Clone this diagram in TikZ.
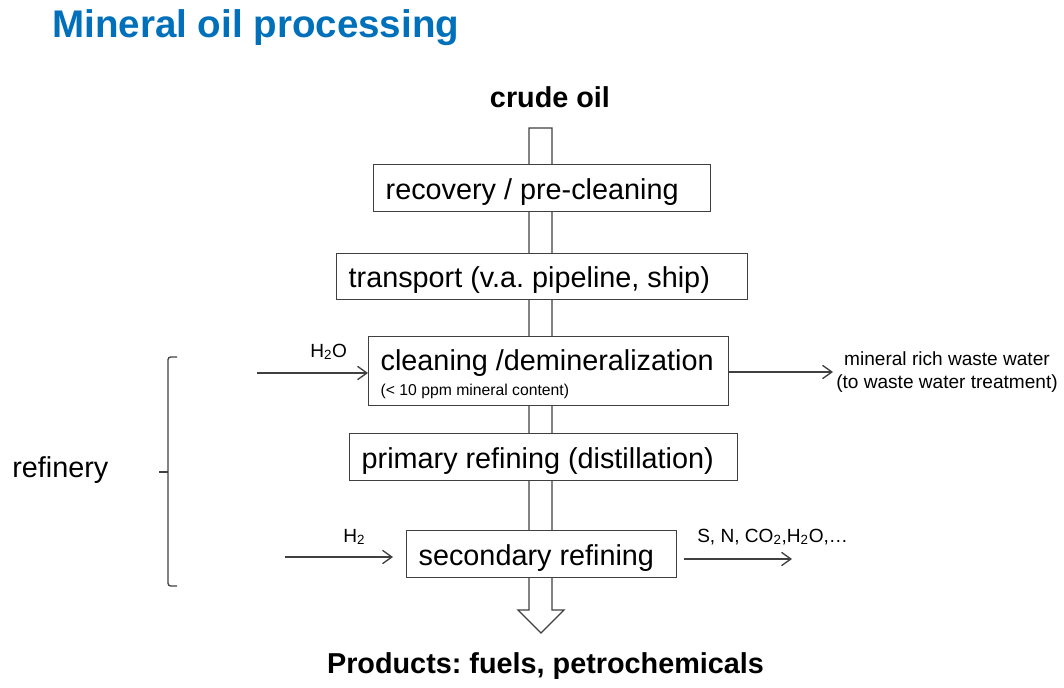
\documentclass[tikz,border=0pt]{standalone}
\usepackage{fontspec}
\setmainfont{Liberation Sans}
\usetikzlibrary{arrows.meta}
\definecolor{titleblue}{RGB}{0,112,186}
\definecolor{linegray}{RGB}{64,64,64}

\begin{document}
\frenchspacing
\begin{tikzpicture}[
		x=0.75pt, y=-0.75pt,
		every node/.style={inner sep=0pt, text=black},
		big/.style={font=\fontsize{21.6}{26}\selectfont},
		bigbold/.style={font=\fontsize{21.6}{26}\selectfont\bfseries},
		note/.style={font=\fontsize{14.3}{17.25}\selectfont},
		stage/.style={draw=linegray, line width=1pt, fill=white, anchor=north west,
			inner xsep=9pt, text width=#1, align=flush left, big},
		oneline/.style={minimum height=35.25pt, text height=21pt, text depth=4.5pt},
		flow/.style={draw=linegray, line width=1pt, -{Straight Barb[length=7pt,width=10pt]}}
	]
	\useasboundingbox (0,0) rectangle (1064,688);

	% headings
	\node[anchor=base west, text=titleblue, font=\fontsize{28.9}{34}\selectfont\bfseries] (title) at (52,38) {Mineral oil processing};
	\node[anchor=base, bigbold] (crude) at (550,108) {crude oil};
	\node[anchor=base, bigbold] (products) at (545.5,673) {Products: fuels, petrochemicals};

	% main flow (drawn first, the stages sit on it)
	\draw[draw=linegray, line width=1pt, fill=white]
		(529,128) -- (552,128) -- (552,610) -- (564,610) -- (541,633) -- (518,610) -- (529,610) -- cycle;

	% stages
	\node[stage=234.75pt, oneline] (recovery) at (373,164) {recovery / pre-cleaning};
	\node[stage=290.25pt, oneline, minimum height=34.5pt] (transport) at (336,253) {transport (v.a. pipeline, ship)};
	\node[stage=252pt, minimum height=51.75pt] (clean) at (368,336)
		{\rule{0pt}{20.5pt}cleaning /demineralization\\[-7pt]{\fontsize{11.8}{14}\selectfont (< 10 ppm mineral content)}};
	\node[stage=273pt, oneline] (primary) at (349,433) {primary refining (distillation)};
	\node[stage=184.5pt, oneline] (secondary) at (406,530) {secondary refining};

	% inputs and outputs
	\coordinate (water in) at (257,373);
	\draw[flow] (water in) -- (water in -| clean.west);
	\node[anchor=base west, note] (water) at (310,357) {H\textsubscript{2}O};

	\node[note, align=center, inner xsep=2.25pt] (waste) at (947,372) {mineral rich waste water\\(to waste water treatment)};
	\draw[flow] (clean.east |- waste) -- (waste.west);

	\coordinate (hydrogen in) at (285,557);
	\coordinate (hydrogen end) at (393,557);
	\draw[flow] (hydrogen in) -- (hydrogen end);
	\node[anchor=base west, note] (hydrogen) at (343,542) {H\textsubscript{2}};

	\coordinate (gas in) at (684,559);
	\coordinate (gas end) at (792,559);
	\draw[flow] (gas in) -- (gas end);
	\node[anchor=base west, note] (gas) at (697,542) {S, N, CO\textsubscript{2},H\textsubscript{2}O,…};

	% refinery bracket
	\draw[linegray, line width=1pt, rounded corners=2pt] (177,357) -- (168,357) -- (168,586) -- (177,586);
	\coordinate (bracket tip) at (159,472);
	\draw[linegray, line width=1pt] (bracket tip) -- (bracket tip -| 168,0);
	\node[anchor=base west, big] (refinery) at (12,477) {refinery};
\end{tikzpicture}
\end{document}
